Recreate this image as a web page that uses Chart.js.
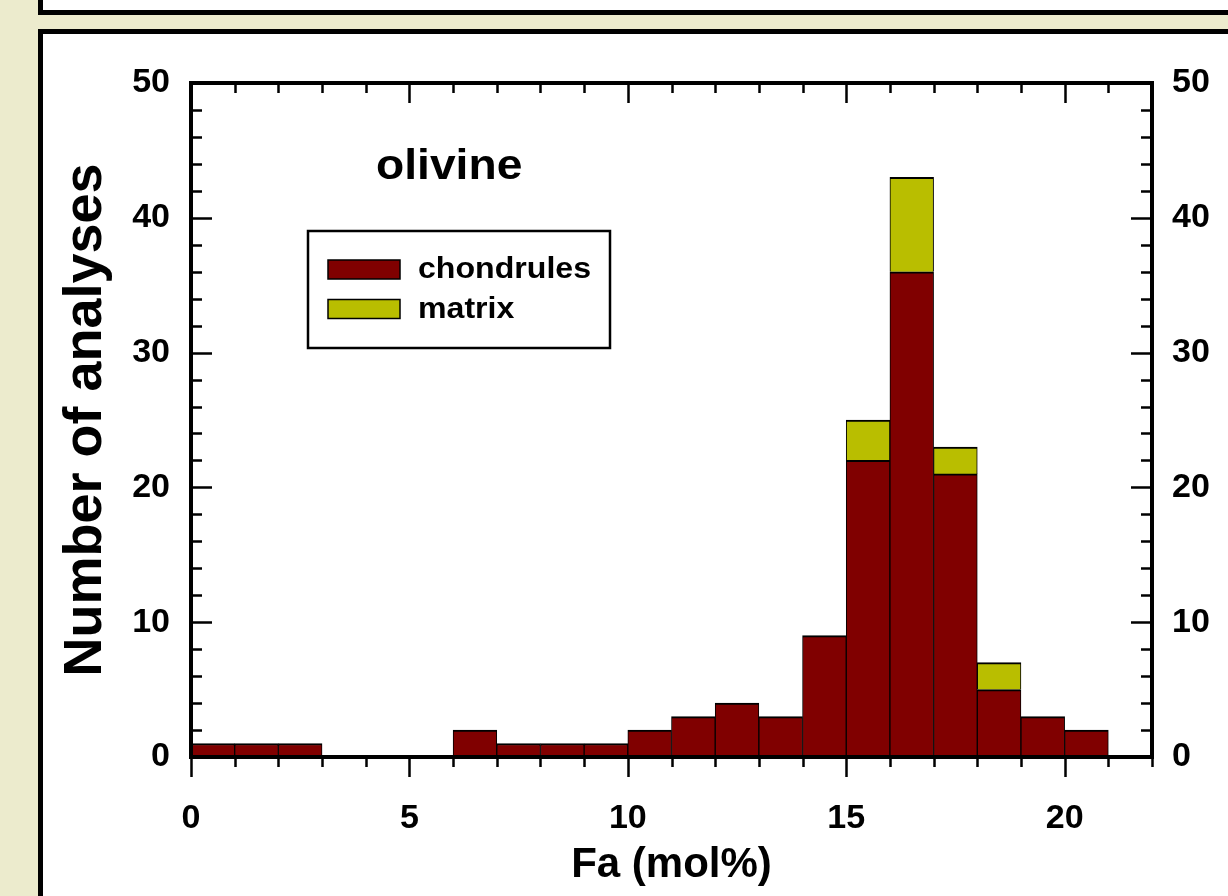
<!DOCTYPE html>
<html>
<head>
<meta charset="utf-8">
<script src="https://cdn.jsdelivr.net/npm/chart.js@4.4.1/dist/chart.umd.min.js"></script>
<style>
  html, body { margin: 0; padding: 0; width: 1228px; height: 896px; overflow: hidden; background: #ecebcd; }
  .panel { position: absolute; background: #fff; border: 5px solid #000; box-sizing: border-box; }
  #topPanel { left: 38px; top: -30px; width: 1300px; height: 45px; }
  #mainPanel { left: 38px; top: 29px; width: 1300px; height: 1000px; }
  #c { position: absolute; left: 0; top: 0; }
</style>
</head>
<body>
<div class="panel" id="topPanel"></div>
<div class="panel" id="mainPanel"></div>
<canvas id="c" width="1228" height="896"></canvas>
<script>
// Bin lower edges (Fa mol%), bin width 1
const binStarts = [0,1,2,3,4,5,6,7,8,9,10,11,12,13,14,15,16,17,18,19,20];
const chondrules = [1,1,1,0,0,0,2,1,1,1,2,3,4,3,9,22,36,21,5,3,2];
const matrix     = [0,0,0,0,0,0,0,0,0,0,0,0,0,0,0,3,7,2,2,0,0];
const xTickLabels = [0,5,10,15,20];
const yTickLabels = [0,10,20,30,40,50];
const seriesNames = ['chondrules','matrix'];
const seriesColors = ['#800000','#b9be00'];
const panelLabel = 'olivine';

const FONT = "'Liberation Sans', Arial, sans-serif";

const toPoints = arr => arr.map((v, i) => ({ x: binStarts[i] + 0.5, y: v }));

function wideText(ctx, text, x, y, sx) {
  ctx.save();
  ctx.translate(x, y);
  ctx.scale(sx, 1);
  ctx.fillText(text, 0, 0);
  ctx.restore();
}

const decor = {
  id: 'decor',
  afterDatasetsDraw(chart) {
    const ctx = chart.ctx;
    const a = chart.chartArea;
    const xs = chart.scales.x, ys = chart.scales.y;
    ctx.save();
    ctx.strokeStyle = '#000';
    ctx.lineCap = 'butt';
    // x ticks: bottom outward, top inward
    ctx.lineWidth = 2.5;
    for (let v = xs.min; v <= xs.max; v += 1) {
      const px = Math.round(xs.getPixelForValue(v)) + 0.5;
      const major = v % 5 === 0;
      const L = major ? 20 : 10;
      ctx.beginPath();
      ctx.moveTo(px, a.bottom); ctx.lineTo(px, a.bottom + L);
      ctx.moveTo(px, a.top); ctx.lineTo(px, a.top + L);
      ctx.stroke();
    }
    // y ticks: left and right inward
    for (let v = ys.min; v <= ys.max; v += 2) {
      const py = Math.round(ys.getPixelForValue(v)) + 0.5;
      const major = v % 10 === 0;
      const L = major ? 21 : 11;
      ctx.beginPath();
      ctx.moveTo(a.left, py); ctx.lineTo(a.left + L, py);
      ctx.moveTo(a.right, py); ctx.lineTo(a.right - L, py);
      ctx.stroke();
    }
    // frame
    ctx.lineWidth = 4;
    ctx.strokeRect(a.left, a.top, a.right - a.left, a.bottom - a.top);

    // panel label
    ctx.fillStyle = '#000';
    ctx.font = 'bold 42px ' + FONT;
    ctx.textAlign = 'left';
    ctx.textBaseline = 'alphabetic';
    wideText(ctx, panelLabel, a.left + 185, a.top + 96, 1.1);

    // legend box
    const lx = a.left + 117, ly = a.top + 148, lw = 302, lh = 117;
    ctx.fillStyle = '#fff';
    ctx.fillRect(lx, ly, lw, lh);
    ctx.lineWidth = 2.5;
    ctx.strokeRect(lx, ly, lw, lh);
    chart.data.datasets.forEach((ds, i) => {
      const sy = ly + 29 + i * 39.5;
      ctx.fillStyle = ds.backgroundColor;
      ctx.fillRect(lx + 20, sy, 72, 19);
      ctx.lineWidth = 1.5;
      ctx.strokeStyle = '#000';
      ctx.strokeRect(lx + 20, sy, 72, 19);
      ctx.fillStyle = '#000';
      ctx.font = 'bold 30px ' + FONT;
      ctx.textBaseline = 'middle';
      wideText(ctx, ds.label, lx + 110, sy + 10, 1.07);
    });
    ctx.restore();
  }
};

const tickFont = { family: FONT, size: 34, weight: 'bold' };
const barBorder = { top: 2, left: 1, right: 1, bottom: 0 };

new Chart(document.getElementById('c'), {
  type: 'bar',
  data: {
    datasets: [
      { label: seriesNames[0], data: toPoints(chondrules), backgroundColor: seriesColors[0],
        borderColor: '#000', borderWidth: barBorder, borderSkipped: false,
        barPercentage: 1, categoryPercentage: 1 },
      { label: seriesNames[1], data: toPoints(matrix), backgroundColor: seriesColors[1],
        borderColor: '#000', borderWidth: barBorder, borderSkipped: false,
        barPercentage: 1, categoryPercentage: 1 }
    ]
  },
  options: {
    responsive: false,
    animation: false,
    devicePixelRatio: 1,
    layout: { padding: { left: 0, top: 83, right: 0, bottom: 0 } },
    plugins: { legend: { display: false }, tooltip: { enabled: false } },
    scales: {
      x: {
        type: 'linear', min: 0, max: 22, stacked: true, offset: false,
        afterBuildTicks: s => { s.ticks = xTickLabels.map(v => ({ value: v })); },
        afterFit: s => { s.height = 139; },
        grid: { display: false, drawTicks: false },
        border: { display: false },
        ticks: { font: tickFont, color: '#000', padding: 41, maxRotation: 0, autoSkip: false },
        title: { display: true, text: 'Fa (mol%)', color: '#000',
                 font: { family: FONT, size: 42, weight: 'bold' }, padding: { top: 0, bottom: 5 } }
      },
      y: {
        type: 'linear', position: 'left', min: 0, max: 50, stacked: true,
        afterBuildTicks: s => { s.ticks = yTickLabels.map(v => ({ value: v })); },
        afterFit: s => { s.width = 191; },
        grid: { display: false, drawTicks: false },
        border: { display: false },
        ticks: { font: tickFont, color: '#000', padding: 21 },
        title: { display: true, text: 'Number of analyses', color: '#000',
                 font: { family: FONT, size: 54, weight: 'bold' }, padding: { top: 54, bottom: 0 } }
      },
      y2: {
        type: 'linear', position: 'right', min: 0, max: 50,
        afterBuildTicks: s => { s.ticks = yTickLabels.map(v => ({ value: v })); },
        afterFit: s => { s.width = 76; },
        grid: { display: false, drawTicks: false },
        border: { display: false },
        ticks: { font: tickFont, color: '#000', padding: 20 }
      }
    }
  },
  plugins: [decor]
});
</script>
</body>
</html>
